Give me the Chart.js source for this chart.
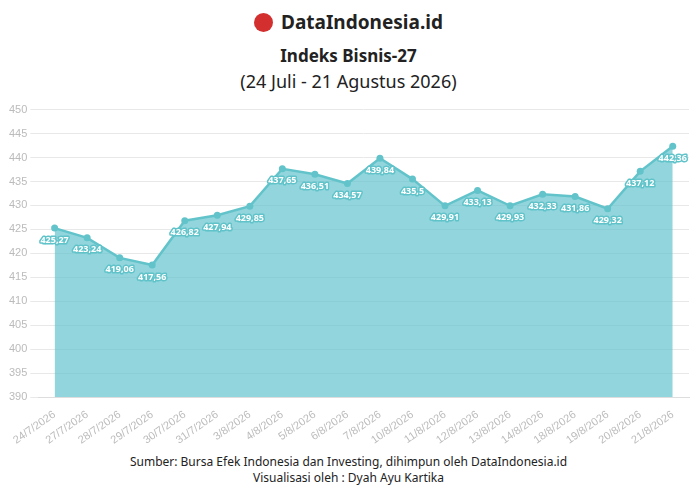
<!DOCTYPE html>
<html>
<head>
<meta charset="utf-8">
<script src="https://cdn.jsdelivr.net/npm/chart.js@4"></script>
<style>
body { margin:0; width:697px; height:495px; background:#fff; font-family:"Source Sans Pro","Noto Sans",sans-serif; overflow:hidden; }
.brand { position:absolute; top:9px; left:0; width:697px; text-align:center; font-size:19px; font-weight:bold; color:#222; }
.brand span.logo { display:inline-block; width:19px; height:19px; border-radius:50%; background:#d32f2f; vertical-align:-3px; margin-right:8px; }
.title { position:absolute; top:44px; width:697px; text-align:center; font-size:17px; font-weight:bold; color:#222; }
.sub { position:absolute; top:69px; width:697px; text-align:center; font-size:18px; color:#222; }
.foot { position:absolute; top:454px; width:697px; text-align:center; font-size:12px; color:#222; line-height:16px; }
#wrap { position:absolute; left:0; top:100px; width:697px; height:350px; }
</style>
</head>
<body>
<div class="brand"><span class="logo"></span>DataIndonesia.id</div>
<div class="title">Indeks Bisnis-27</div>
<div class="sub">(24 Juli - 21 Agustus 2026)</div>
<div id="wrap"><canvas id="chart"></canvas></div>
<div class="foot">Sumber: Bursa Efek Indonesia dan Investing, dihimpun oleh DataIndonesia.id<br>Visualisasi oleh : Dyah Ayu Kartika</div>
<script>
var dates = ["24/7/2026","27/7/2026","28/7/2026","29/7/2026","30/7/2026","31/7/2026","3/8/2026","4/8/2026","5/8/2026","6/8/2026","7/8/2026","10/8/2026","11/8/2026","12/8/2026","13/8/2026","14/8/2026","18/8/2026","19/8/2026","20/8/2026","21/8/2026"];
var values = [425.27,423.24,419.06,417.56,426.82,427.94,429.85,437.65,436.51,434.57,439.84,435.5,429.91,433.13,429.93,432.33,431.86,429.32,437.12,442.36];

var labelPlugin = {
    id: "pointLabels",
    afterDatasetsDraw: function(chart)
    {
        var ctx = chart.ctx;
        var meta = chart.getDatasetMeta(0);
        ctx.save();
        ctx.font = "bold 9px 'Noto Sans', sans-serif";
        ctx.textAlign = "center";
        ctx.textBaseline = "middle";
        ctx.lineJoin = "round";
        meta.data.forEach(function(pt, i)
        {
            var txt = String(values[i]).replace(".", ",");
            var x = pt.x, y = pt.y + 12;
            ctx.lineWidth = 3;
            ctx.strokeStyle = "#5fc3c9";
            ctx.strokeText(txt, x, y);
            ctx.fillStyle = "#fff";
            ctx.fillText(txt, x, y);
        });
        ctx.restore();
    }
};

new Chart(document.getElementById("chart"), {
    type: "line",
    data: {
        labels: dates,
        datasets: [{
            data: values,
            borderColor: "#62c4ca",
            backgroundColor: "rgba(100,195,205,0.7)",
            fill: "start",
            borderWidth: 2.5,
            pointRadius: 3.5,
            pointBackgroundColor: "#62c4ca",
            pointBorderWidth: 0,
            tension: 0
        }]
    },
    options: {
        responsive: true,
        maintainAspectRatio: false,
        animation: false,
        layout: { padding: { left: 6, right: 8, top: 4 } },
        plugins: { legend: { display: false }, tooltip: { enabled: false } },
        scales: {
            x: {
                offset: true,
                grid: { display: false },
                border: { color: "#ddd" },
                ticks: { color: "#bbb", font: { size: 11 }, maxRotation: 35, minRotation: 35, autoSkip: false }
            },
            y: {
                min: 390,
                max: 450,
                grid: { color: "#e8e8e8" },
                border: { display: false },
                ticks: { stepSize: 5, color: "#bbb", font: { size: 11 } }
            }
        }
    },
    plugins: [labelPlugin]
});
</script>
</body>
</html>
